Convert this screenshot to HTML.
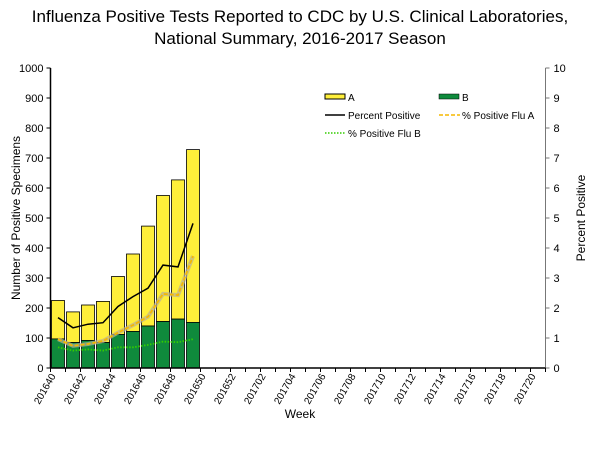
<!DOCTYPE html>
<html><head><meta charset="utf-8"><style>
body{margin:0;background:#fff;}
svg text{font-family:"Liberation Sans",Arial,sans-serif;}
</style></head><body>
<svg id="chart" width="600" height="450" viewBox="0 0 600 450">
<text x="300" y="22" font-size="17" text-anchor="middle">Influenza Positive Tests Reported to CDC by U.S. Clinical Laboratories,</text>
<text x="300" y="44" font-size="17" text-anchor="middle">National Summary, 2016-2017 Season</text>
<g id="plot"></g>
<g font-size="10">
<rect x="325" y="94" width="20" height="5" fill="#ffef3a" stroke="#000" stroke-width="1"/>
<text x="348" y="101">A</text>
<rect x="439" y="94" width="20" height="5" fill="#0f8a3c" stroke="#000" stroke-width="0.5"/>
<text x="462" y="101">B</text>
<line x1="325" y1="115" x2="345" y2="115" stroke="#000" stroke-width="1.5"/>
<text x="348" y="119">Percent Positive</text>
<line x1="439" y1="115" x2="460" y2="115" stroke="#f5b800" stroke-width="1.5" stroke-dasharray="4,2"/>
<text x="462" y="119">% Positive Flu A</text>
<line x1="325" y1="133" x2="345" y2="133" stroke="#33cc00" stroke-width="1.5" stroke-dasharray="1.5,1.5"/>
<text x="348" y="137">% Positive Flu B</text>
</g>
</svg>
<script>
const weeks=[];
for(let w=40;w<=52;w++)weeks.push('2016'+w);
for(let w=1;w<=20;w++)weeks.push('2017'+(w<10?'0'+w:w));
const totalPos=[225,187,210,222,305,380,473,575,627,728];
const fluB=[97,85,92,85,112,122,140,155,163,152];
const pctPos=[1.68,1.34,1.46,1.51,2.05,2.38,2.66,3.43,3.37,4.82];
const pctA=[0.96,0.74,0.8,0.9,1.18,1.43,1.71,2.47,2.43,3.73];
const pctB=[0.69,0.58,0.62,0.58,0.69,0.69,0.77,0.88,0.86,0.96];
const leftTicks=[0,100,200,300,400,500,600,700,800,900,1000];
const rightTicks=[0,1,2,3,4,5,6,7,8,9,10];
const NS='http://www.w3.org/2000/svg';
const X0=50.5,CW=15,Y0=368,YT=68;
const yL=v=>Y0-(v/1000)*(Y0-YT);
const yR=v=>Y0-(v/10)*(Y0-YT);
const xC=i=>X0+CW*(i+0.5);
const g=document.getElementById('plot');
function mk(t,a){const e=document.createElementNS(NS,t);for(const k in a)e.setAttribute(k,a[k]);g.appendChild(e);return e;}
// bars
totalPos.forEach((t,i)=>{
 const b=fluB[i];
 const ra=mk('rect',{x:X0+CW*i+1,y:yL(t),width:CW-2,height:yL(b)-yL(t),fill:'#ffef3a',stroke:'#000','stroke-width':0.8});
 
 
 const rb=mk('rect',{x:X0+CW*i+1,y:yL(b),width:CW-2,height:Y0-yL(b),fill:'#0f8a3c',stroke:'#000','stroke-width':0.8});
 
 
});
function line(arr,attrs,name){
 const p=arr.map((v,i)=>xC(i)+','+yR(v)).join(' ');
 const l=mk('polyline',Object.assign({points:p,fill:'none'},attrs));
 
 
}
line(pctA,{stroke:'#b8b09a','stroke-width':4,opacity:0.7},'flu-a-shadow');
line(pctA,{stroke:'#f5b800','stroke-width':1.8,'stroke-dasharray':'4,2'},'line-percent-flu-a');
line(pctB,{stroke:'#33cc00','stroke-width':1.8,'stroke-dasharray':'1.5,1.5'},'line-percent-flu-b');
line(pctPos,{stroke:'#000','stroke-width':1.5},'line-percent-positive');
// axes
const ax=mk('line',{x1:X0,y1:YT,x2:X0,y2:Y0,stroke:'#000','stroke-width':1.5});

const X1=X0+CW*weeks.length;
const ar=mk('line',{x1:X1,y1:YT,x2:X1,y2:Y0,stroke:'#777','stroke-width':1});

const axb=mk('line',{x1:X0,y1:Y0,x2:X1,y2:Y0,stroke:'#000','stroke-width':1.5});

leftTicks.forEach(v=>{
 mk('line',{x1:X0-4,y1:yL(v),x2:X0,y2:yL(v),stroke:'#000'});
 const t=mk('text',{x:X0-7,y:yL(v)+4,'font-size':11,'text-anchor':'end'});t.textContent=v;
 
});
rightTicks.forEach(v=>{
 mk('line',{x1:X1,y1:yR(v),x2:X1+4,y2:yR(v),stroke:'#777'});
 const t=mk('text',{x:X1+8,y:yR(v)+4,'font-size':11});t.textContent=v;
 
});
for(let i=0;i<=weeks.length;i++)mk('line',{x1:X0+CW*i,y1:Y0,x2:X0+CW*i,y2:Y0+4,stroke:'#000'});
weeks.forEach((w,i)=>{
 if(i%2)return;
 const x=xC(i)-2,y=Y0+8;
 const t=mk('text',{x:x,y:y,'font-size':10,'text-anchor':'end',transform:`rotate(-60 ${x} ${y})`});
 t.textContent=w;
 
});
let t=mk('text',{x:300,y:418,'font-size':12,'text-anchor':'middle'});t.textContent='Week';

t=mk('text',{x:20,y:218,'font-size':12,'text-anchor':'middle',transform:'rotate(-90 20 218)'});t.textContent='Number of Positive Specimens';

t=mk('text',{x:585,y:218,'font-size':12,'text-anchor':'middle',transform:'rotate(-90 585 218)'});t.textContent='Percent Positive';

</script>
</body></html>
